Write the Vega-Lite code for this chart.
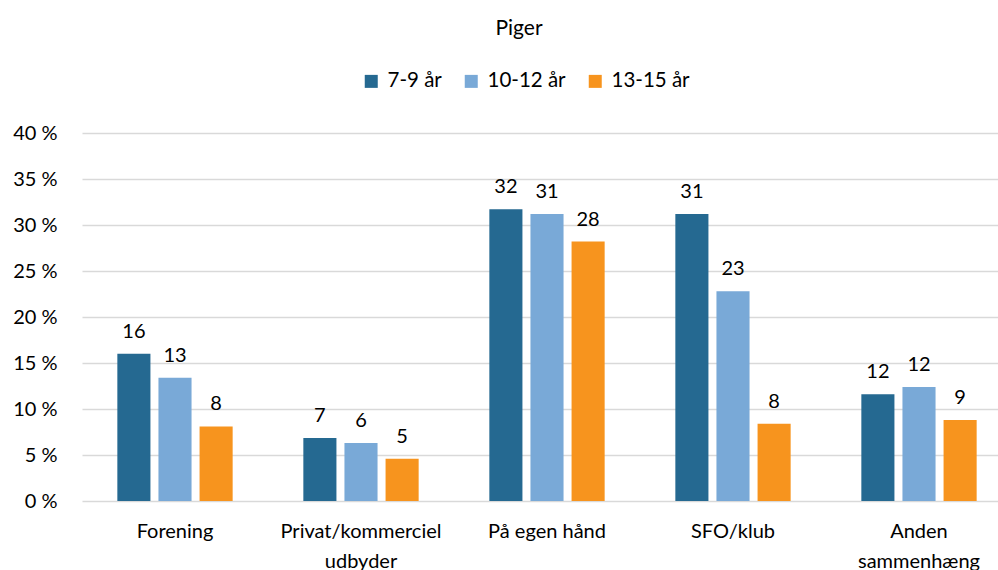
{
  "$schema": "https://vega.github.io/schema/vega-lite/v6.json",
  "width": 916,
  "height": 368,
  "autosize": "none",
  "padding": {"left": 82, "top": 133, "right": 0, "bottom": 69},
  "background": "white",
  "config": {"font": "Lato", "view": {"stroke": null}},
  "title": {"text": "Piger", "fontSize": 21, "fontWeight": "normal", "color": "#000000", "offset": 32, "dx": -21, "font": "Lato"},
  "data": {
    "values": [
      {"kategori": "Forening", "alder": "7-9 år", "andel": 16.0},
      {"kategori": "Forening", "alder": "10-12 år", "andel": 13.4},
      {"kategori": "Forening", "alder": "13-15 år", "andel": 8.1},
      {"kategori": "Privat/kommerciel udbyder", "alder": "7-9 år", "andel": 6.85},
      {"kategori": "Privat/kommerciel udbyder", "alder": "10-12 år", "andel": 6.3},
      {"kategori": "Privat/kommerciel udbyder", "alder": "13-15 år", "andel": 4.6},
      {"kategori": "På egen hånd", "alder": "7-9 år", "andel": 31.7},
      {"kategori": "På egen hånd", "alder": "10-12 år", "andel": 31.2},
      {"kategori": "På egen hånd", "alder": "13-15 år", "andel": 28.2},
      {"kategori": "SFO/klub", "alder": "7-9 år", "andel": 31.2},
      {"kategori": "SFO/klub", "alder": "10-12 år", "andel": 22.8},
      {"kategori": "SFO/klub", "alder": "13-15 år", "andel": 8.4},
      {"kategori": "Anden sammenhæng", "alder": "7-9 år", "andel": 11.6},
      {"kategori": "Anden sammenhæng", "alder": "10-12 år", "andel": 12.4},
      {"kategori": "Anden sammenhæng", "alder": "13-15 år", "andel": 8.8}
    ]
  },
  "encoding": {
    "x": {
      "field": "kategori",
      "type": "nominal",
      "sort": ["Forening", "Privat/kommerciel udbyder", "På egen hånd", "SFO/klub", "Anden sammenhæng"],
      "scale": {"range": [0, 930], "paddingInner": 0.38, "paddingOuter": 0.19},
      "axis": {
        "title": null,
        "domain": false,
        "ticks": false,
        "grid": false,
        "labelAngle": 0,
        "labelPadding": 20,
        "labelFontSize": 20,
        "labelColor": "#000000",
        "labelBaseline": "top",
        "labelLineHeight": 30,
        "labelExpr": "datum.label == 'Privat/kommerciel udbyder' ? ['Privat/kommerciel', 'udbyder'] : datum.label == 'Anden sammenhæng' ? ['Anden', 'sammenhæng'] : datum.label"
      }
    },
    "xOffset": {
      "field": "alder",
      "type": "nominal",
      "sort": ["7-9 år", "10-12 år", "13-15 år"],
      "scale": {"paddingInner": 0.195, "paddingOuter": 0}
    },
    "y": {
      "field": "andel",
      "type": "quantitative",
      "scale": {"domain": [0, 40]},
      "axis": {
        "title": null,
        "values": [0, 5, 10, 15, 20, 25, 30, 35, 40],
        "labelExpr": "datum.value + ' %'",
        "domain": false,
        "ticks": false,
        "labelPadding": 25,
        "labelFontSize": 20,
        "labelColor": "#000000",
        "gridColor": "#D9D9D9",
        "gridWidth": 1.3
      }
    }
  },
  "layer": [
    {
      "mark": {"type": "bar"},
      "encoding": {
        "color": {
          "field": "alder",
          "type": "nominal",
          "sort": ["7-9 år", "10-12 år", "13-15 år"],
          "scale": {"domain": ["7-9 år", "10-12 år", "13-15 år"], "range": ["#256991", "#79A9D7", "#F7941E"]},
          "legend": {
            "title": null,
            "orient": "none",
            "direction": "horizontal",
            "legendX": 279,
            "legendY": -62,
            "padding": 0,
            "symbolType": "square",
            "symbolSize": 169,
            "symbolStrokeWidth": 0,
            "labelFontSize": 20.5,
            "labelColor": "#000000",
            "labelOffset": 6,
            "columnPadding": 19
          }
        }
      }
    },
    {
      "mark": {"type": "text", "baseline": "bottom", "dy": -12, "fontSize": 20, "color": "#000000"},
      "encoding": {
        "text": {"field": "andel", "type": "quantitative", "format": ".0f"}
      }
    }
  ]
}
